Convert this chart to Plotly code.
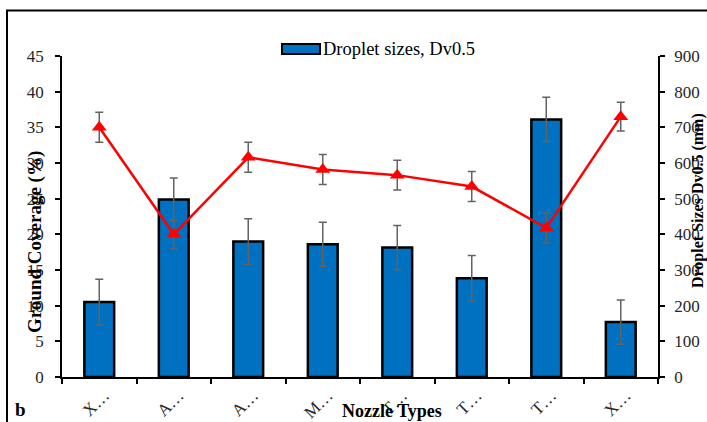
import plotly.graph_objects as go

# ---- data ----
categories = ["n1", "n2", "n3", "n4", "n5", "n6", "n7", "n8"]
tick_labels = ["X…", "A…", "A…", "M…", "T…", "T…", "T…", "X…"]
droplet_dv05 = [210, 498, 380, 372, 363, 277, 722, 154]          # µm (right axis)
droplet_err = [64, 60, 64, 62, 62, 64, 62, 62]
ground_coverage = [35.0, 20.0, 30.8, 29.1, 28.3, 26.7, 20.9, 36.5]  # % (left axis)
coverage_err = [2.1, 2.0, 2.1, 2.1, 2.1, 2.1, 2.1, 2.0]
left_ticks = list(range(0, 50, 5))
right_ticks = list(range(0, 1000, 100))

W, H = 707, 422
ML, MR, MT, MB = 62, 49, 56, 45
PW, PH = W - ML - MR, H - MT - MB


def px(x):
    return (x - ML) / PW


def py(y):
    return (H - MB - y) / PH


FONT = "Times New Roman, Liberation Serif, serif"
ERRC = "#636363"

fig = go.Figure()
fig.add_trace(go.Bar(
    x=categories, y=droplet_dv05, yaxis="y",
    marker=dict(color="#0070C0", line=dict(color="black", width=2.5)),
    error_y=dict(type="data", array=droplet_err, color=ERRC, thickness=1.5, width=4),
    name="Droplet sizes, Dv0.5", showlegend=False,
))
fig.add_trace(go.Scatter(
    x=categories, y=ground_coverage, yaxis="y2", mode="lines+markers",
    line=dict(color="#FF0000", width=2.5),
    marker=dict(symbol="triangle-up", size=13, color="#FF0000"),
    error_y=dict(type="data", array=coverage_err, color=ERRC, thickness=1.5, width=4),
    name="Ground Coverage", showlegend=False,
))

axis_common = dict(showline=True, linecolor="black", linewidth=1.5, ticks="outside",
                   ticklen=5, tickwidth=1.5, tickcolor="black", showgrid=False,
                   zeroline=False, automargin=False,
                   tickfont=dict(family=FONT, size=17, color="#262626"))

fig.update_layout(
    template="none",
    width=W, height=H,
    margin=dict(l=ML, r=MR, t=MT, b=MB, autoexpand=False),
    paper_bgcolor="white", plot_bgcolor="white",
    font=dict(family=FONT, color="black"),
    bargap=0.6,
    xaxis=dict(type="category", tickmode="array", tickvals=categories, ticktext=tick_labels,
               tickson="boundaries", tickangle=-45, range=[-0.5, 7.5], ticklabelshift=5,
               **{**axis_common, "tickfont": dict(family=FONT, size=17, color="#262626")}),
    yaxis=dict(side="right", range=[0, 900], tickmode="array", tickvals=right_ticks,
               ticklabelstandoff=6, **axis_common),
    yaxis2=dict(side="left", overlaying="y", range=[0, 45], tickmode="array",
                tickvals=left_ticks, ticklabelstandoff=8, **axis_common),
    showlegend=False,
)

annotations = [
    dict(text="<b>Ground Coverage (%)</b>", x=px(35), y=py(242), textangle=-90,
         font=dict(size=19)),
    dict(text="<b>Droplet Sizes Dv0.5 (mm)</b>", x=px(698), y=py(200), textangle=-90,
         font=dict(size=16)),
    dict(text="<b>Nozzle Types</b>", x=px(392), y=py(411), font=dict(size=18)),
    dict(text="<b>b</b>", x=px(20), y=py(410), font=dict(size=19)),
    dict(text="Droplet sizes, Dv0.5", x=px(321), y=py(49), xanchor="left",
         font=dict(size=18.5)),
]
for a in annotations:
    a.setdefault("xanchor", "center")
    fig.add_annotation(xref="paper", yref="paper", showarrow=False, yanchor="middle",
                       font_family=FONT, **a)

# legend swatch and outer frame
fig.add_shape(type="rect", xref="paper", yref="paper", x0=px(282), x1=px(320),
              y0=py(54), y1=py(44), fillcolor="#0070C0", line=dict(color="black", width=2))
fig.add_shape(type="rect", xref="paper", yref="paper", x0=px(7), x1=px(712),
              y0=py(430), y1=py(10.5), line=dict(color="black", width=2), layer="below")

fig.write_html(
    "out.html",
    config={"displayModeBar": False},
    post_script="document.body.style.margin='0';document.body.style.overflow='hidden';",
)
